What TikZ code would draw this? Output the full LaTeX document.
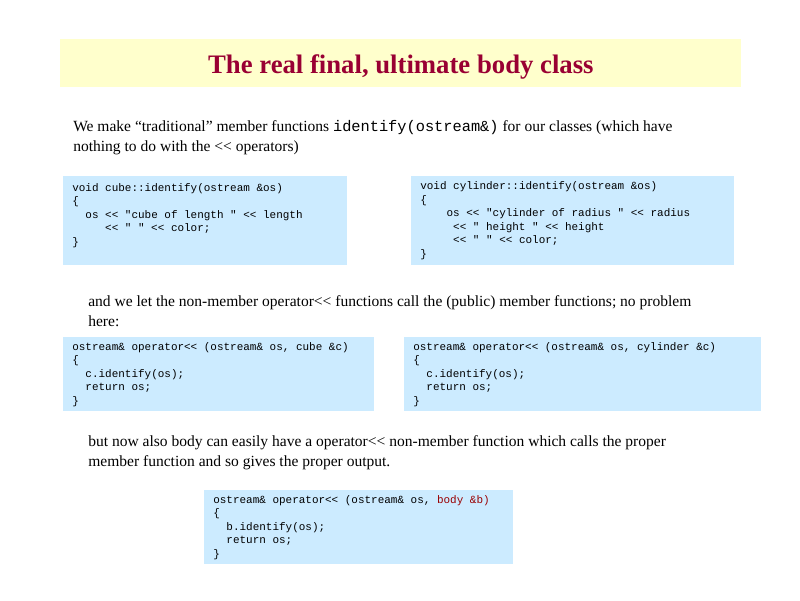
\documentclass[tikz,border=0pt]{standalone}
\usepackage{fontspec}
\setmainfont{Liberation Serif}
\newfontfamily\codefont{Liberation Mono}
\definecolor{titlebg}{RGB}{255,255,204}
\definecolor{titlered}{RGB}{153,0,51}
\definecolor{codebg}{RGB}{204,235,255}
\definecolor{argred}{RGB}{153,0,0}
\newcommand{\codegap}[1]{\hspace*{#1\dimexpr0.6em\relax}}
\tikzset{
  codebox/.style={anchor=north west, fill=codebg, inner xsep=0.225cm, inner ysep=0pt,
    align=left, font=\codefont\fontsize{7.8}{9.6}\selectfont,
    execute at begin node={\spaceskip=0.6em\xspaceskip=0.6em\relax}},
  prose/.style={anchor=north west, inner sep=0pt, align=left,
    font=\fontsize{11.05}{13.9}\selectfont},
}

\begin{document}
\begin{tikzpicture}[x=0.025cm,y=-0.025cm]
    \useasboundingbox (0,0) rectangle (800,600);
    % heading band
    \node[anchor=north west, fill=titlebg, inner sep=0pt, minimum width=17.025cm, minimum height=1.2cm,
        text height=14pt, text depth=0pt, text=titlered, font=\bfseries\fontsize{19}{23}\selectfont]
        (title) at (60,39) {The real final, ultimate body class};
    % member functions
    \node[prose] (intro) at (73,120.5) {We make “traditional” member functions {\codefont\fontsize{10.9}{13}\selectfont identify(ostream\&)} for our classes (which have\\
        nothing to do with the <\kern0pt< operators)};
    \node[codebox, text width=6.65cm, minimum height=2.225cm] (cubeid) at (63,176) {void cube::identify(ostream \&os)\\
        \{\\
        \codegap{2}os <\kern0pt< "cube of length " <\kern0pt< length\\
        \codegap{5}<\kern0pt< " " <\kern0pt< color;\\
        \}\\
        \mbox{}};
    \node[codebox, text width=7.625cm, minimum height=2.225cm] (cylid) at (411,176) {void cylinder::identify(ostream \&os)\\
        \{\\
        \codegap{4}os <\kern0pt< "cylinder of radius " <\kern0pt< radius\\
        \codegap{5}<\kern0pt< " height " <\kern0pt< height\\
        \codegap{5}<\kern0pt< " " <\kern0pt< color;\\
        \}};
    % non-member operators
    \node[prose] (callnote) at (88,295.5) {and we let the non-member operator<\kern0pt< functions call the (public) member functions; no problem\\
        here:};
    \node[codebox, text width=7.325cm, minimum height=1.85cm] (cubeop) at (63,337) {ostream\& operator<\kern0pt< (ostream\& os, cube \&c)\\
        \{\\
        \codegap{2}c.identify(os);\\
        \codegap{2}return os;\\
        \}};
    \node[codebox, text width=8.475cm, minimum height=1.85cm] (cylop) at (404,337) {ostream\& operator<\kern0pt< (ostream\& os, cylinder \&c)\\
        \{\\
        \codegap{2}c.identify(os);\\
        \codegap{2}return os;\\
        \}};
    % body operator
    \node[prose] (bodynote) at (88,435.5) {but now also body can easily have a operator<\kern0pt< non-member function which calls the proper\\
        member function and so gives the proper output.};
    \node[codebox, text width=7.275cm, minimum height=1.85cm] (bodyop) at (204,490) {ostream\& operator<\kern0pt< (ostream\& os, \textcolor{argred}{body \&b)}\\
        \{\\
        \codegap{2}b.identify(os);\\
        \codegap{2}return os;\\
        \}};
\end{tikzpicture}
\end{document}
